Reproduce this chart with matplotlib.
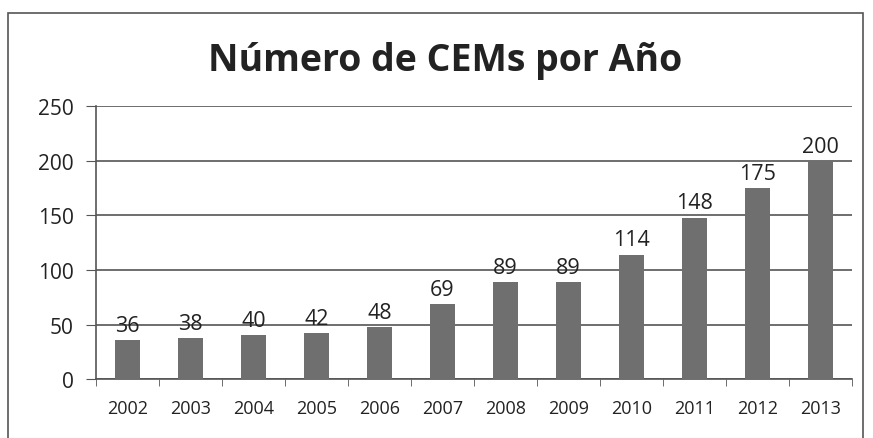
import matplotlib.pyplot as plt
from matplotlib.patches import Rectangle

years = ["2002", "2003", "2004", "2005", "2006", "2007",
         "2008", "2009", "2010", "2011", "2012", "2013"]
cems = [36, 38, 40, 42, 48, 69, 89, 89, 114, 148, 175, 200]
yticks = [0, 50, 100, 150, 200, 250]

plt.rcParams['font.family'] = ['Open Sans', 'DejaVu Sans']

fig = plt.figure(figsize=(8.73, 4.39), dpi=100)
ax = fig.add_axes([0.110, 0.134, 0.866, 0.622])

# chart border (Excel-style frame)
fig.patches.append(Rectangle((8 / 873, -0.05), 855 / 873, 1 - 14 / 439 + 0.05,
                             transform=fig.transFigure, fill=False,
                             edgecolor='#555555', linewidth=1.2))

x = range(len(years))
ax.bar(x, cems, width=0.4, color='#6f6f6f', zorder=3)

for i, v in enumerate(cems):
    ax.annotate(str(v), (i, v), xytext=(0, 3), textcoords='offset points',
                ha='center', va='bottom', fontsize=15.5, color='#222222', zorder=4)

ax.set_xlim(-0.5, len(years) - 0.5)
ax.set_ylim(0, 250)
ax.set_yticks(yticks)
ax.yaxis.grid(True, color='#555555', linewidth=1.2, zorder=0)

ax.set_xticks(x)
ax.set_xticklabels(years, fontsize=13, color='#222222')
ax.set_xticks([i - 0.5 for i in range(len(years) + 1)], minor=True)
ax.tick_params(axis='x', which='major', length=0, pad=14)
ax.tick_params(axis='x', which='minor', length=5, color='#555555')
ax.tick_params(axis='y', labelsize=15, length=7, color='#555555', labelcolor='#222222', pad=9)

for s in ['top', 'right']:
    ax.spines[s].set_visible(False)
ax.spines['left'].set_color('#555555')
ax.spines['bottom'].set_color('#555555')
ax.spines['left'].set_linewidth(1.2)
ax.spines['bottom'].set_linewidth(1.2)

fig.text(0.51, 0.862, "Número de CEMs por Año", ha='center', va='center',
         fontsize=27, fontweight='bold', color='#222222')

fig.savefig("out.png", dpi=100)
